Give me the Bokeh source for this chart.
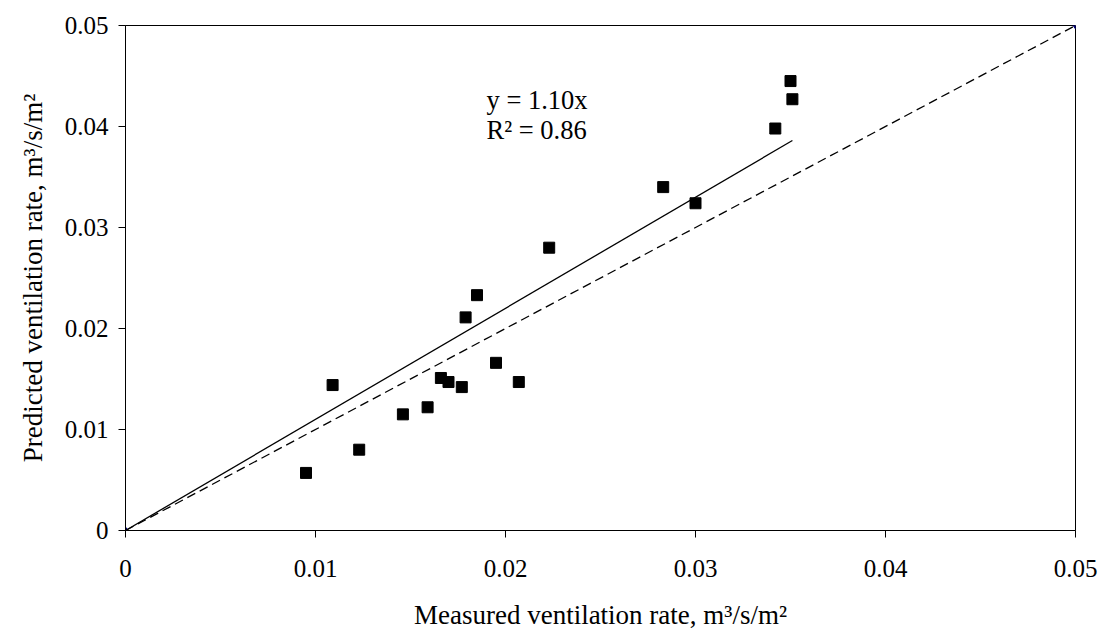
from bokeh.plotting import figure
from bokeh.models import FixedTicker, ColumnDataSource
from bokeh.core.properties import value
from bokeh.embed import file_html
from bokeh.resources import INLINE

measured = [0.0095, 0.0109, 0.0123, 0.0146, 0.0159, 0.0166, 0.0170, 0.0177,
            0.0179, 0.0185, 0.0195, 0.0207, 0.0223, 0.0283, 0.0300, 0.0342,
            0.0350, 0.0351]
predicted = [0.0057, 0.0144, 0.0080, 0.0115, 0.0122, 0.0151, 0.0147, 0.0142,
             0.0211, 0.0233, 0.0166, 0.0147, 0.0280, 0.0340, 0.0324, 0.0398,
             0.0445, 0.0427]
slope = 1.10
r2 = 0.86
ticks = [0, 0.01, 0.02, 0.03, 0.04, 0.05]
tick_labels = ["0", "0.01", "0.02", "0.03", "0.04", "0.05"]
x_title = "Measured ventilation rate, m\u00b3/s/m\u00b2"
y_title = "Predicted ventilation rate, m\u00b3/s/m\u00b2"
eq_text = ["y = 1.10x", "R\u00b2 = 0.86"]

FONT = "Liberation Serif"

p = figure(width=1105, height=633, output_backend="svg", toolbar_location=None,
           x_range=(0, 0.05), y_range=(0, 0.05),
           min_border_left=125, min_border_right=30, min_border_top=25,
           min_border_bottom=103)
p.background_fill_color = "white"
p.border_fill_color = "white"
p.outline_line_color = "black"
p.outline_line_width = 1
p.xgrid.visible = False
p.ygrid.visible = False

for ax in (p.xaxis[0], p.yaxis[0]):
    ax.ticker = FixedTicker(ticks=ticks)
    ax.major_label_overrides = {t: l for t, l in zip(ticks, tick_labels)}
    ax.major_label_text_font = FONT
    ax.major_label_text_font_size = "25px"
    ax.major_label_text_color = "black"
    ax.axis_label_text_font = FONT
    ax.axis_label_text_font_size = "27px"
    ax.axis_label_text_font_style = "normal"
    ax.axis_label_text_color = "black"
    ax.axis_line_color = "black"
    ax.major_tick_line_color = "black"
    ax.major_tick_in = 0
    ax.major_tick_out = 7
    ax.minor_tick_line_color = None

p.xaxis.axis_label = x_title
p.yaxis.axis_label = y_title
p.xaxis.major_label_standoff = 22
p.xaxis.axis_label_standoff = 20
p.yaxis.major_label_standoff = 10
p.yaxis.axis_label_standoff = 14

# 1:1 line
p.line([ticks[0], ticks[-1]], [ticks[0], ticks[-1]], line_color="black",
       line_width=1.3, line_dash="9 5")
p.scatter([ticks[0], ticks[-1]], [ticks[0], ticks[-1]], marker="diamond",
          size=7, color="#000080")

# trend line
xmax = max(measured)
p.line([0, xmax], [0, slope * xmax], line_color="black", line_width=1.3)

# data
src = ColumnDataSource(dict(x=measured, y=predicted))
p.scatter("x", "y", source=src, marker="square", size=11, color="black")

# equation text
p.text(x=[0.0190, 0.0190], y=[0.0426, 0.0397], text=eq_text,
       text_font=value(FONT), text_font_size="26.5px", text_color="black",
       text_baseline="middle", text_align="left")

open("out.html", "w").write(file_html(p, INLINE))
